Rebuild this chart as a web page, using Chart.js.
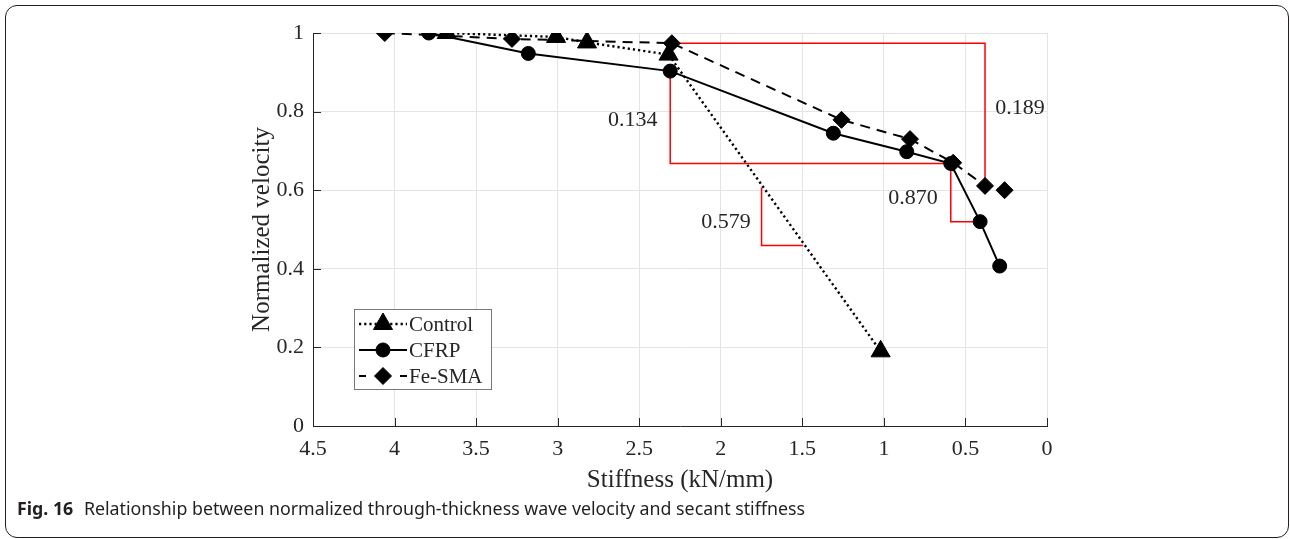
<!DOCTYPE html>
<html>
<head>
<meta charset="utf-8">
<title>Fig. 16</title>
<script src="https://cdn.jsdelivr.net/npm/chart.js@4.4.0/dist/chart.umd.min.js"></script>
<style>
  html, body { margin: 0; padding: 0; background: #fff; }
  body { position: relative; width: 1290px; height: 539px; overflow: hidden; }
  #frame {
    position: absolute; left: 5px; top: 5px; width: 1284px; height: 533px;
    border: 1.5px solid #231f20; border-radius: 12px; box-sizing: border-box;
  }
  #plot { position: absolute; left: 0; top: 0; }
  #caption {
    position: absolute; left: 17px; top: 496px;
    font-family: "Noto Sans", "Open Sans", sans-serif; font-size: 17.8px; color: #231f20;
    white-space: nowrap;
  }
  #caption b { margin-right: 6px; }
</style>
</head>
<body>
<div id="frame"></div>
<canvas id="plot" width="1290" height="539"></canvas>
<div id="caption"><b>Fig. 16</b> Relationship between normalized through-thickness wave velocity and secant stiffness</div>

<script>
// secant stiffness (kN/mm) and normalized wave velocity per specimen
var controlStiffness = [3.68, 3.01, 2.82, 2.32, 1.02];
var controlVelocity  = [1.0, 0.99, 0.976, 0.945, 0.19];

var cfrpStiffness = [3.79, 3.18, 2.31, 1.31, 0.86, 0.59, 0.41, 0.29];
var cfrpVelocity  = [1.0, 0.948, 0.903, 0.745, 0.698, 0.668, 0.52, 0.407];

var fesmaStiffness = [4.06, 3.28, 2.30, 1.26, 0.84, 0.575, 0.38, 0.26];
var fesmaVelocity  = [1.0, 0.985, 0.974, 0.779, 0.73, 0.67, 0.611, 0.60];

var xTicks = [0, 0.5, 1, 1.5, 2, 2.5, 3, 3.5, 4, 4.5];
var xTickLabels = ["0", "0.5", "1", "1.5", "2", "2.5", "3", "3.5", "4", "4.5"];
var yTicks = [0, 0.2, 0.4, 0.6, 0.8, 1];
var yTickLabels = ["0", "0.2", "0.4", "0.6", "0.8", "1"];

// slope values written next to the red guides
var slopeValues = ["0.134", "0.189", "0.870", "0.579"];
var slopeLabelX = [2.54, 0.166, 0.822, 1.968];
var slopeLabelY = [0.779, 0.809, 0.58, 0.519];

// small slope triangle on the control branch
var ctrlTriX = 1.75, ctrlTriY = 0.607, ctrlTriRun = 0.255, ctrlTriSlope = 0.579;

var INK = "#262626";
var SERIF = '"Liberation Serif", "Times New Roman", serif';

function pts(xs, ys) {
  var out = [];
  for (var i = 0; i < xs.length; i++) out.push({ x: xs[i], y: ys[i] });
  return out;
}

// step guide between point i and point j: vertical first, or horizontal first
function step(xs, ys, i, j, vertFirst) {
  var corner = vertFirst ? { x: xs[i], y: ys[j] } : { x: xs[j], y: ys[i] };
  return [{ x: xs[i], y: ys[i] }, corner, { x: xs[j], y: ys[j] }];
}

function guide(data) {
  return {
    label: "guide", data: data, showLine: true, fill: false, tension: 0,
    borderColor: "#ff0000", borderWidth: 1.5, pointRadius: 0, pointHoverRadius: 0
  };
}

var ctrlTri = [
  { x: ctrlTriX, y: ctrlTriY },
  { x: ctrlTriX, y: ctrlTriY - ctrlTriSlope * ctrlTriRun },
  { x: ctrlTriX - ctrlTriRun, y: ctrlTriY - ctrlTriSlope * ctrlTriRun }
];

var series = [
  { label: "Control", xs: controlStiffness, ys: controlVelocity, dash: [2.2, 3], width: 2.4, style: "triangle", r: 11 },
  { label: "CFRP", xs: cfrpStiffness, ys: cfrpVelocity, dash: [], width: 2, style: "circle", r: 7 },
  { label: "Fe-SMA", xs: fesmaStiffness, ys: fesmaVelocity, dash: [10, 7], width: 2, style: "rectRot", r: 8.5 }
];

var datasets = series.map(function (s) {
  return {
    label: s.label, data: pts(s.xs, s.ys), showLine: true, tension: 0,
    borderColor: "#000", borderWidth: s.width, borderDash: s.dash,
    pointStyle: s.style, pointRadius: s.r, pointHoverRadius: s.r,
    pointBackgroundColor: "#000", pointBorderColor: "#000", pointBorderWidth: 1
  };
});
datasets.push(guide(step(cfrpStiffness, cfrpVelocity, 2, 5, true)));
datasets.push(guide(step(cfrpStiffness, cfrpVelocity, 5, 6, true)));
datasets.push(guide(step(fesmaStiffness, fesmaVelocity, 2, 6, false)));
datasets.push(guide(ctrlTri));

// MATLAB-style inward tick marks
var innerTicks = {
  id: "innerTicks",
  beforeDatasetsDraw: function (chart) {
    var ctx = chart.ctx, a = chart.chartArea;
    var sx = chart.scales.x, sy = chart.scales.y;
    ctx.save();
    ctx.strokeStyle = INK;
    ctx.lineWidth = 1;
    ctx.beginPath();
    xTicks.forEach(function (v) {
      var px = Math.round(sx.getPixelForValue(v)) + 0.5;
      ctx.moveTo(px, a.bottom);
      ctx.lineTo(px, a.bottom - 8);
    });
    yTicks.forEach(function (v) {
      var py = Math.round(sy.getPixelForValue(v)) + 0.5;
      ctx.moveTo(a.left, py);
      ctx.lineTo(a.left + 8, py);
    });
    ctx.stroke();
    ctx.restore();
  }
};

var slopeText = {
  id: "slopeText",
  afterDatasetsDraw: function (chart) {
    var ctx = chart.ctx, sx = chart.scales.x, sy = chart.scales.y;
    ctx.save();
    ctx.font = "22px " + SERIF;
    ctx.fillStyle = INK;
    ctx.textAlign = "center";
    ctx.textBaseline = "middle";
    slopeValues.forEach(function (t, i) {
      ctx.fillText(t, sx.getPixelForValue(slopeLabelX[i]), sy.getPixelForValue(slopeLabelY[i]));
    });
    ctx.restore();
  }
};

function marker(ctx, style, r, x, y) {
  ctx.fillStyle = "#000";
  ctx.strokeStyle = "#000";
  ctx.lineWidth = 1;
  if (Chart.helpers && Chart.helpers.drawPoint) {
    Chart.helpers.drawPoint(ctx, { pointStyle: style, radius: r, rotation: 0, borderWidth: 1 }, x, y);
  }
}

// boxed legend in the lower-left corner of the axes
var boxLegend = {
  id: "boxLegend",
  afterDraw: function (chart) {
    var ctx = chart.ctx, a = chart.chartArea;
    var left = a.left + 41, top = a.top + 276, w = 137, h = 80;
    ctx.save();
    ctx.fillStyle = "#fff";
    ctx.fillRect(left, top, w, h);
    ctx.strokeStyle = "#777";
    ctx.lineWidth = 1;
    ctx.strokeRect(left + 0.5, top + 0.5, w, h);
    ctx.font = "21px " + SERIF;
    ctx.textBaseline = "middle";
    series.forEach(function (s, i) {
      var y = top + 15 + i * 26;
      var x0 = left + 5, x1 = left + 53, xm = left + 29;
      ctx.strokeStyle = "#000";
      ctx.lineWidth = s.width;
      ctx.setLineDash(s.dash);
      ctx.beginPath();
      if (s.style === "rectRot") {
        ctx.setLineDash([]);
        ctx.moveTo(x0, y); ctx.lineTo(x0 + 7, y);
        ctx.moveTo(x1 - 7, y); ctx.lineTo(x1, y);
      } else {
        ctx.moveTo(x0, y); ctx.lineTo(x1, y);
      }
      ctx.stroke();
      ctx.setLineDash([]);
      marker(ctx, s.style, s.r, xm, y);
      ctx.fillStyle = INK;
      ctx.fillText(s.label, left + 55, y + 1);
    });
    ctx.restore();
  }
};

function fixedTicks(list) {
  return function (scale) {
    scale.ticks = list.map(function (v) { return { value: v }; });
  };
}

function tickText(values, labels) {
  return function (value) {
    var i = values.indexOf(value);
    return i < 0 ? "" : labels[i];
  };
}

new Chart(document.getElementById("plot"), {
  type: "scatter",
  data: { datasets: datasets },
  plugins: [innerTicks, slopeText, boxLegend],
  options: {
    responsive: false,
    animation: false,
    events: [],
    layout: { padding: { left: 240, right: 243, top: 33, bottom: 43 } },
    plugins: { legend: { display: false }, tooltip: { enabled: false } },
    scales: {
      x: {
        type: "linear", reverse: true, min: 0, max: 4.5,
        afterBuildTicks: fixedTicks(xTicks),
        afterFit: function (s) { s.height = 70; },
        grid: { color: "#e4e4e4", drawTicks: false },
        border: { color: INK, width: 1 },
        ticks: { color: INK, padding: 10, font: { family: SERIF, size: 22 },
                 callback: tickText(xTicks, xTickLabels) },
        title: { display: true, text: "Stiffness (kN/mm)", color: INK,
                 font: { family: SERIF, size: 25 }, padding: { top: 0, bottom: 1 } }
      },
      y: {
        type: "linear", min: 0, max: 1,
        afterBuildTicks: fixedTicks(yTicks),
        afterFit: function (s) { s.width = 73; },
        grid: { color: "#e4e4e4", drawTicks: false },
        border: { color: INK, width: 1 },
        ticks: { color: INK, padding: 9, font: { family: SERIF, size: 22 },
                 callback: tickText(yTicks, yTickLabels) },
        title: { display: true, text: "Normalized velocity", color: INK,
                 font: { family: SERIF, size: 25 }, padding: { top: 7, bottom: 0 } }
      }
    }
  }
});
</script>
</body>
</html>
